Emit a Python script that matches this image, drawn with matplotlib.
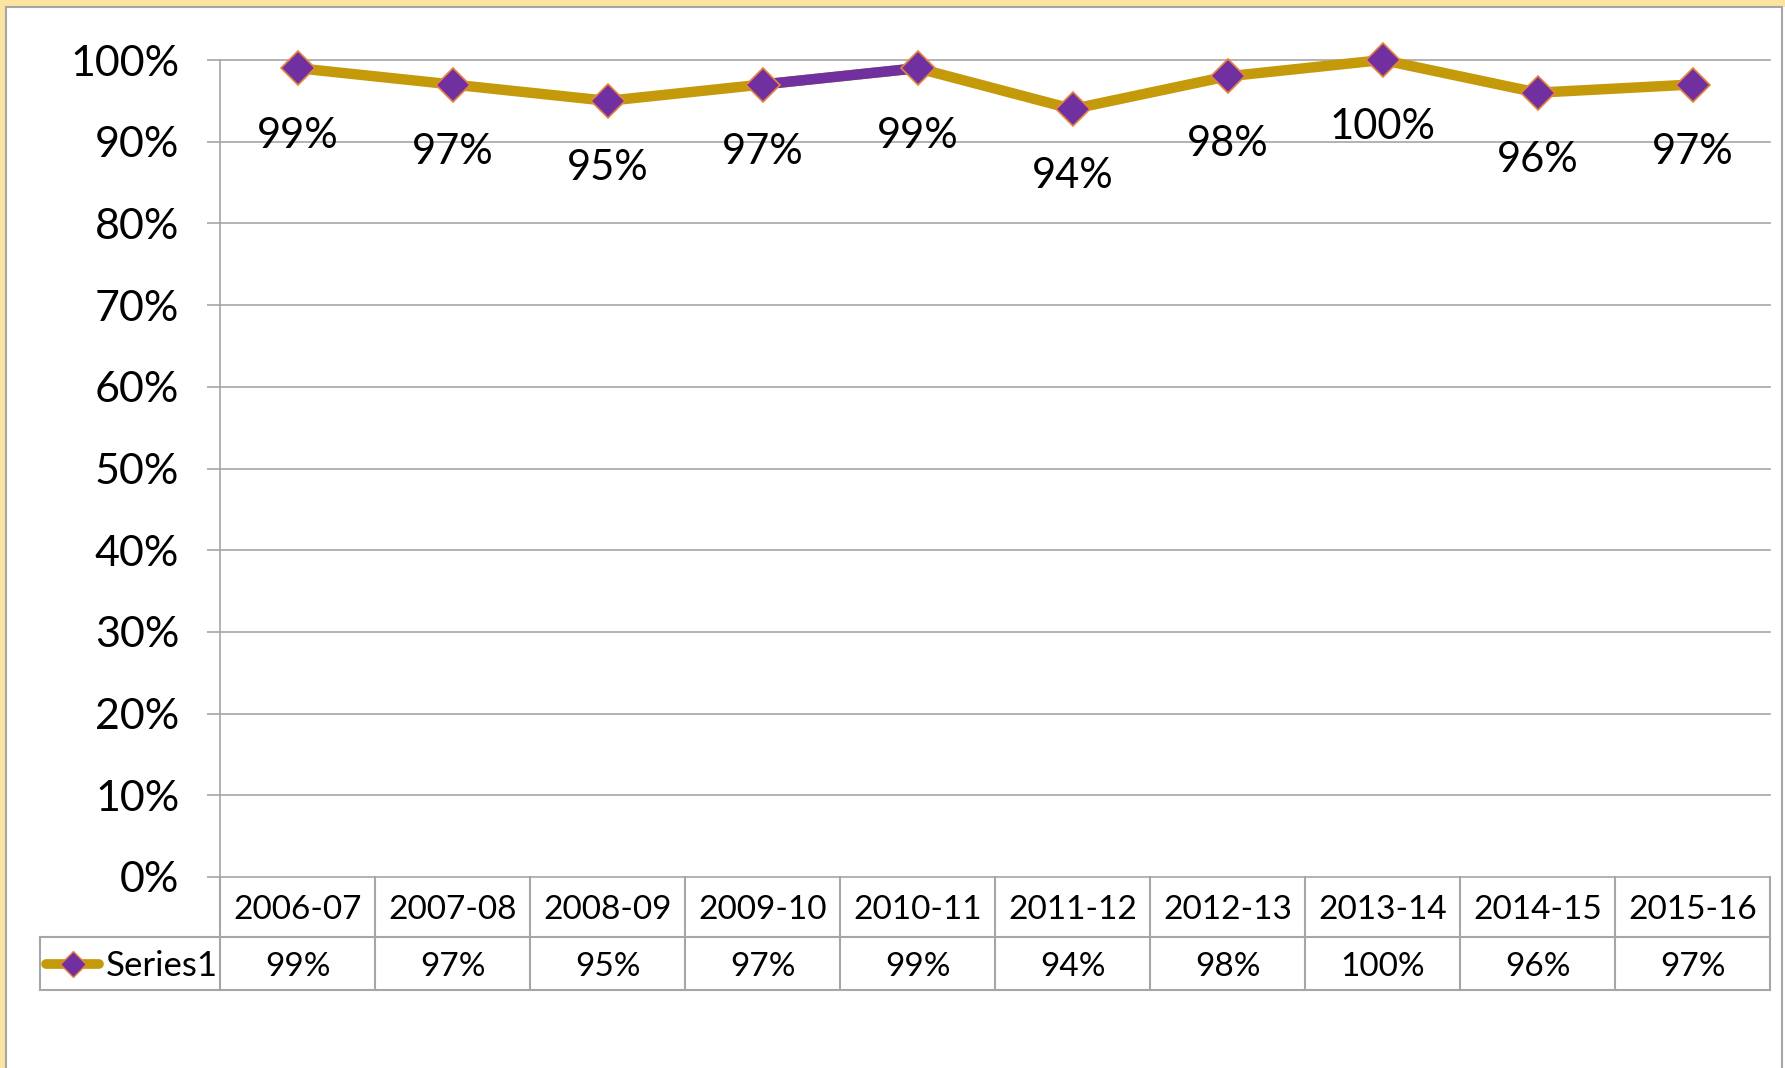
import numpy as np
import matplotlib
matplotlib.use("Agg")
import matplotlib.pyplot as plt
from matplotlib.patches import Rectangle
from matplotlib.lines import Line2D

# ---- data ----
categories = ["2006-07", "2007-08", "2008-09", "2009-10", "2010-11",
              "2011-12", "2012-13", "2013-14", "2014-15", "2015-16"]
values = [99, 97, 95, 97, 99, 94, 98, 100, 96, 97]
series_name = "Series1"
highlight_segment = 3          # segment from point 3 to point 4 drawn purple
ytick_values = list(range(0, 101, 10))

GOLD = "#C49A0B"
PURPLE = "#7030A0"
EDGE = "#E8853A"
GRID = "#A6A6A6"

plt.rcParams['font.family'] = ['Lato', 'DejaVu Sans']

W, H = 1785, 1068
fig = plt.figure(figsize=(W / 100, H / 100), dpi=100)
fig.patch.set_facecolor("white")

def fx(px):
    return px / W

def fy(py):
    return 1 - py / H

# background strips and chart border
fig.add_artist(Rectangle((0, 0), fx(6), 1, transform=fig.transFigure,
                         facecolor="#FBE3A0", edgecolor="none", zorder=-3))
fig.add_artist(Rectangle((0, fy(7)), 1, 7 / H, transform=fig.transFigure,
                         facecolor="#FBE3A0", edgecolor="none", zorder=-3))
fig.add_artist(Rectangle((fx(6), fy(1100)), fx(1782) - fx(6), (1100 - 7) / H,
                         transform=fig.transFigure, facecolor="white",
                         edgecolor=GRID, lw=1.5, zorder=-2))

top_px, bot_px, left_px, right_px = 60, 877, 220, 1770
ax = fig.add_axes([fx(left_px), fy(bot_px), fx(right_px) - fx(left_px),
                   (bot_px - top_px) / H])
ax.set_zorder(1)
ax.set_facecolor("none")
n = len(categories)
x = np.arange(n)
ax.set_xlim(-0.5, n - 0.5)
ax.set_ylim(0, 1)

yt = np.array(ytick_values) / 100
ax.set_yticks(yt)
ax.set_yticklabels([f"{v}%" for v in ytick_values], fontsize=31)
ax.tick_params(axis='y', length=13 * 0.72, width=1.2, color=GRID, pad=20)
ax.set_xticks([])
for s in ["top", "right", "bottom"]:
    ax.spines[s].set_visible(False)
ax.spines["left"].set_color(GRID)
ax.spines["left"].set_linewidth(1.2)
for v in yt:
    ax.axhline(v, color=GRID, lw=1.2, zorder=1, clip_on=False)

vals = np.array(values) / 100
ax.plot(x, vals, color=GOLD, lw=7.5, zorder=3, solid_capstyle='round',
        clip_on=False)
hs = highlight_segment
ax.plot(x[hs:hs + 2], vals[hs:hs + 2], color=PURPLE, lw=7.5, zorder=3.5,
        clip_on=False)
ax.plot(x, vals, linestyle='none', marker='D', markersize=17,
        markerfacecolor=PURPLE, markeredgecolor=EDGE, markeredgewidth=1.2,
        zorder=4, clip_on=False)

for xi, v in zip(x, values):
    ax.annotate(f"{v}%", (xi, v / 100), xytext=(0, -46), textcoords='offset points',
                ha='center', va='center_baseline', fontsize=30, zorder=5)

# ---- data table below axis ----
axh_px = bot_px - top_px
h1 = 60 / axh_px
h2 = 53 / axh_px
x_leg = -0.5 - (left_px - 40) / ((right_px - left_px) / n)
tr = ax.get_xaxis_transform()
kw = dict(color=GRID, lw=1.5, transform=tr, clip_on=False, zorder=2)
ax.add_line(Line2D([x_leg, n - 0.5], [-h1, -h1], **kw))
ax.add_line(Line2D([x_leg, n - 0.5], [-h1 - h2, -h1 - h2], **kw))
ax.add_line(Line2D([x_leg, x_leg], [-h1, -h1 - h2], **kw))
for k in range(n + 1):
    ax.add_line(Line2D([k - 0.5, k - 0.5], [0, -h1 - h2], **kw))

for xi, c, v in zip(x, categories, values):
    ax.text(xi, -h1 / 2, c, transform=tr, ha='center', va='center_baseline',
            fontsize=24)
    ax.text(xi, -h1 - h2 / 2, f"{v}%", transform=tr, ha='center',
            va='center_baseline', fontsize=24)

# legend key in table
ly = -h1 - h2 / 2
lx0 = x_leg + 0.04
lx1 = x_leg + 0.38
ax.add_line(Line2D([lx0, lx1], [ly, ly], color=GOLD, lw=7, transform=tr,
                   clip_on=False, solid_capstyle='round', zorder=3))
ax.add_line(Line2D([(lx0 + lx1) / 2], [ly], marker='D', markersize=13,
                   markerfacecolor=PURPLE, markeredgecolor=EDGE,
                   markeredgewidth=1.0, linestyle='none', transform=tr,
                   clip_on=False, zorder=4))
ax.text(x_leg + 0.425, ly, series_name, transform=tr, ha='left',
        va='center_baseline', fontsize=25)

fig.savefig("out.png", dpi=100)
